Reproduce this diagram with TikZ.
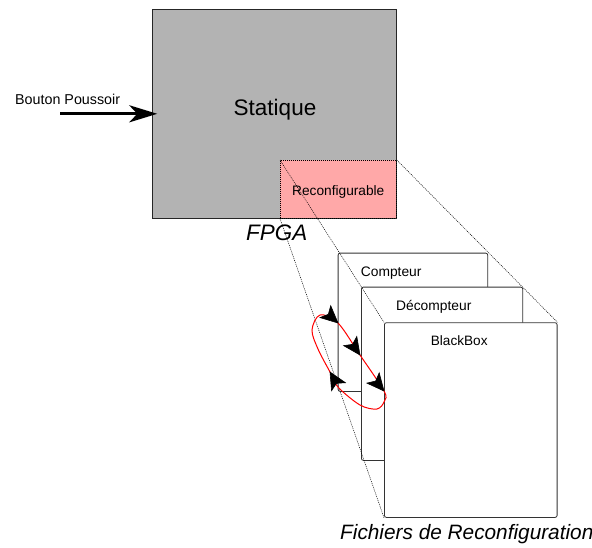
\documentclass[tikz,border=0pt]{standalone}
\usepackage{fontspec}
\setmainfont{Liberation Sans}
\usetikzlibrary{arrows.meta,calc}
\definecolor{statgrey}{HTML}{B3B3B3}
\definecolor{reconfpink}{HTML}{FFA8A8}
\begin{document}
\begin{tikzpicture}[x=1pt,y=-1pt,
  region/.style={draw=black!85, line width=0.8pt, inner sep=0pt, anchor=north west},
  filebox/.style={draw=black!80, line width=0.8pt, fill=white, rounded corners=2pt, inner sep=0pt, anchor=north west},
  lbl/.style={anchor=base west, inner sep=0pt, font=\fontsize{13.8}{16}\selectfont},
  biglbl/.style={anchor=base west, inner sep=0pt, font=\fontsize{22.4}{26}\selectfont\itshape},
  guide/.style={draw=black, line width=0.5pt, dash pattern=on 1pt off 1pt},
  loopline/.style={draw=red, line width=1pt},
  looptip/.style={draw=black, line width=0.6pt, line join=miter, fill=black},
  pusharrow/.style={line width=3.3pt, -{Stealth[length=28pt,width=17pt,inset=8pt]}},
]
\useasboundingbox (0,0) rectangle (592,547);

% FPGA
\node[region, fill=statgrey, minimum width=243.4pt, minimum height=208.4pt] (fpga) at (152.3,9.3) {};
\node[region, fill=reconfpink, draw=black, dash pattern=on 1pt off 1pt, minimum width=116pt, minimum height=57.7pt] (reconf) at (280,160) {};

% reconfiguration files
\node[filebox, minimum width=149.6pt, minimum height=138.3pt] (cpt) at (337.7,252.7) {};
\node[filebox, minimum width=161.3pt, minimum height=173.3pt] (dcpt) at (361,286.7) {};
\node[filebox, minimum width=172.7pt, minimum height=194.7pt] (bb) at (384,322.3) {};

% projection guides
\draw[guide] (reconf.north west) -- (bb.north west);
\draw[guide] (reconf.north east) -- (bb.north east);
\draw[guide] (reconf.south west) -- (bb.south west);

% labels
\node[anchor=base, inner sep=0pt, font=\fontsize{22.5}{26}\selectfont] (stat) at (275,115) {Statique};
\node[lbl, font=\fontsize{14.3}{16}\selectfont] (bptxt) at (15,104) {Bouton Poussoir};
\node[lbl, font=\fontsize{13.7}{16}\selectfont] (rtxt) at (292,195.5) {Reconfigurable};
\node[biglbl] (fpgatxt) at (246,240.7) {FPGA};
\node[lbl] (ctxt) at (360.7,276.7) {Compteur};
\node[lbl] (dtxt) at (396,310) {Décompteur};
\node[lbl, font=\fontsize{13.6}{16}\selectfont] (btxt) at (430.7,345) {BlackBox};
\node[biglbl, font=\fontsize{20.8}{24}\selectfont\itshape] (ftxt) at (340,539) {Fichiers de Reconfiguration};

% push button arrow
\coordinate (bp) at (60,113.8);
\draw[pusharrow] (bp) -- ([xshift=5pt]bp -| fpga.west);

% reconfiguration loop
\draw[loopline] plot[smooth cycle, tension=0.55] coordinates {
  (320,315) (338,323) (360,355) (384,391) (384.5,401) (377,409)
  (360,405) (338,387) (330,372) (318,349) (312,330)};
\coordinate (t1) at (338,323);
\coordinate (t2) at (360,355);
\coordinate (t3) at (384,391);
\coordinate (t4) at (330,372);
% explicit concave arrowheads: tip, wing, notch, wing
\foreach \t/\a in {t1/42, t2/55, t3/50, t4/240}{
  \filldraw[looptip] (\t) -- ($(\t)+(\a+180:17)+(\a+90:8)$) -- ($(\t)+(\a+180:13)$) -- ($(\t)+(\a+180:17)+(\a-90:8)$) -- cycle;
}
\end{tikzpicture}
\end{document}
